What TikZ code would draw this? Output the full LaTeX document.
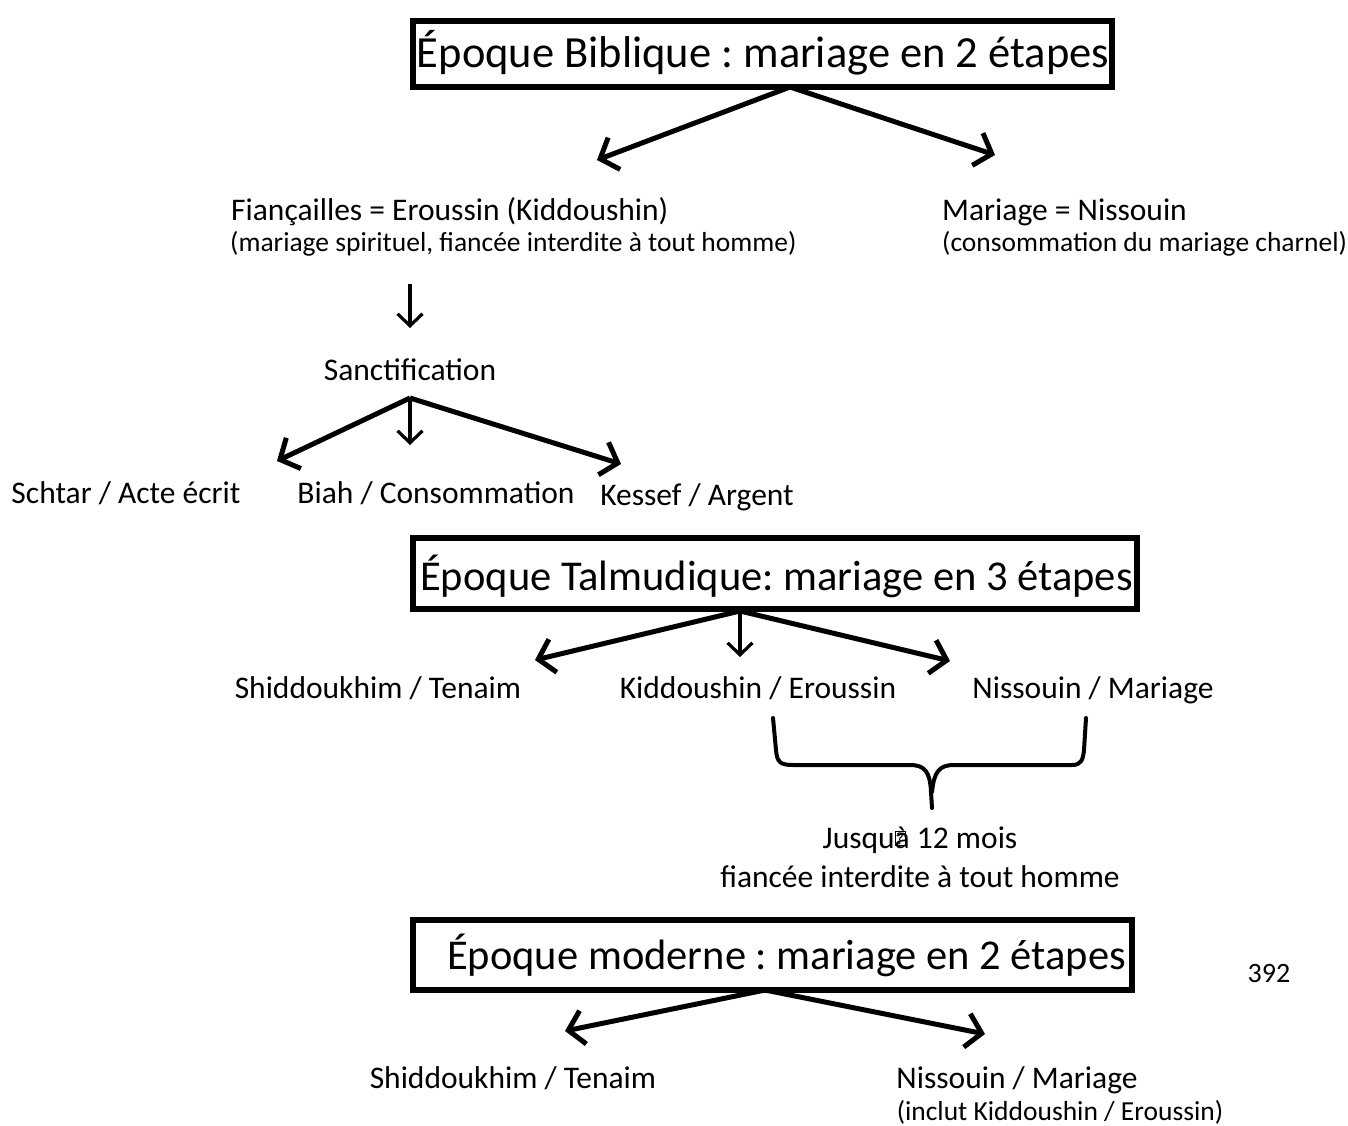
\documentclass[tikz,border=0pt]{standalone}
\usepackage{fontspec}
\setmainfont{Carlito}
\frenchspacing
\usetikzlibrary{arrows.meta}
\begin{document}
\begin{tikzpicture}[x=1pt,y=-1pt,
  titlebox/.style={draw, line width=6pt, inner sep=0pt},
  titletext/.style={inner sep=0pt, anchor=base, font=\fontsize{44.5}{52}\selectfont},
  titletextb/.style={inner sep=0pt, anchor=base, font=\fontsize{42.5}{50}\selectfont},
  body/.style={inner sep=0pt, anchor=base, font=\fontsize{31.5}{38}\selectfont},
  small/.style={inner sep=0pt, anchor=base, font=\fontsize{27.5}{33}\selectfont},
  bigarrow/.style={line width=5pt, -{Straight Barb[length=15pt,width=34pt,line width=5pt]}},
  thinarrow/.style={line width=3.2pt, -{Straight Barb[length=12pt,width=25pt,line width=3.2pt]}},
  bracepath/.style={line width=4pt, line cap=round, line join=round}
]
\useasboundingbox (0,0) rectangle (1348,1126);

% ---- Epoque biblique ----
\node[titlebox, minimum width=699pt, minimum height=66pt] (b1) at (762.5,54) {};
\node[titletext] (t1) at (763,68) {Époque Biblique : mariage en 2 étapes};
\coordinate (b1s) at (790,87);
\coordinate (a1l) at (597,160);
\coordinate (a1r) at (995,155);
\draw[bigarrow] (b1s) -- (a1l);
\draw[bigarrow] (b1s) -- (a1r);

\node[body, anchor=base west] (fian) at (231,220) {Fiançailles = Eroussin (Kiddoushin)};
\node[small, anchor=base west] (fian2) at (230,251) {(mariage spirituel, fiancée interdite à tout homme)};
\node[body, anchor=base west] (mar) at (942,220) {Mariage = Nissouin};
\node[small, anchor=base west] (mar2) at (942,251) {(consommation du mariage charnel)};

\coordinate (f1) at (410,284);
\coordinate (f2) at (410,328);
\draw[thinarrow] (f1) -- (f2);

\node[body] (sanc) at (410,380) {Sanctification};
\coordinate (s0) at (410,398);
\coordinate (sl) at (277,461);
\coordinate (sm) at (410,445);
\coordinate (sr) at (621,464);
\draw[bigarrow] (s0) -- (sl);
\draw[bigarrow] (s0) -- (sr);
\draw[thinarrow] (s0) -- (sm);

\node[body] (schtar) at (126,503) {Schtar / Acte écrit};
\node[body] (biah) at (436,503) {Biah / Consommation};
\node[body] (kessef) at (697,505) {Kessef / Argent};

% ---- Epoque talmudique ----
\node[titlebox, minimum width=724pt, minimum height=71pt] (b2) at (775,573.5) {};
\node[titletextb] (t2) at (776.5,590) {Époque Talmudique: mariage en 3 étapes};
\coordinate (b2s) at (740,611);
\coordinate (a2l) at (535,660);
\coordinate (a2m) at (740,657);
\coordinate (a2r) at (950,661);
\draw[bigarrow] (b2s) -- (a2l);
\draw[bigarrow] (b2s) -- (a2r);
\draw[thinarrow] (b2s) -- (a2m);

\node[body] (shid1) at (378,698) {Shiddoukhim / Tenaim};
\node[body] (kidd) at (758,698) {Kiddoushin / Eroussin};
\node[body] (niss1) at (1093,698) {Nissouin / Mariage};

\draw[bracepath] (773,718) -- (776,750) .. controls (777,762) and (780,765) .. (793,765)
  -- (910,765) .. controls (925,765) and (930,772) .. (931,792) -- (932,808);
\draw[bracepath] (932,792) .. controls (934,772) and (939,765) .. (954,765)
  -- (1072,765) .. controls (1081,765) and (1083,760) .. (1084,750) -- (1086,718);

\node[body] (jusq) at (920,848) {Jusqu\rlap{\raisebox{0.12em}{\fontsize{17}{17}\selectfont\fboxsep=0.8pt\fboxrule=0.7pt\fbox{?}}}à 12 mois};
\node[body] (fian3) at (920,887) {fiancée interdite à tout homme};

% ---- Epoque moderne ----
\node[titlebox, minimum width=719pt, minimum height=70pt] (b3) at (772.5,955) {};
\node[titletextb] (t3) at (786.5,969) {Époque moderne : mariage en 2 étapes};
\node[inner sep=0pt, anchor=base, font=\fontsize{28}{32}\selectfont] (num) at (1269,982) {392};
\coordinate (b3s) at (765,990);
\coordinate (a3l) at (565,1031);
\coordinate (a3r) at (985,1034);
\draw[bigarrow] (b3s) -- (a3l);
\draw[bigarrow] (b3s) -- (a3r);

\node[body] (shid2) at (513,1088) {Shiddoukhim / Tenaim};
\node[body] (niss2) at (1017,1088) {Nissouin / Mariage};
\node[small] (incl) at (1060,1120) {(inclut Kiddoushin / Eroussin)};
\end{tikzpicture}
\end{document}
